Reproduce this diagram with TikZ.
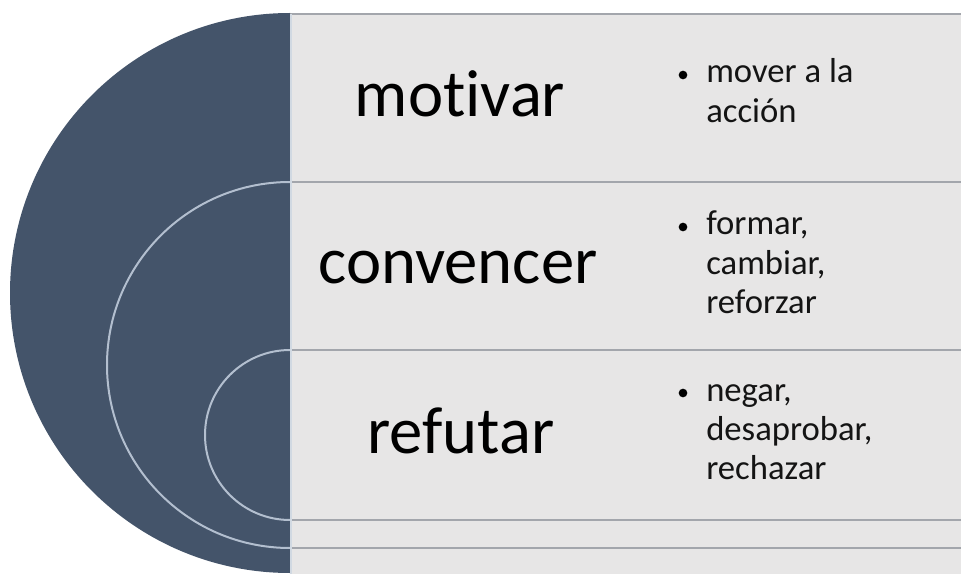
\documentclass[tikz,border=0pt]{standalone}
\usepackage{fontspec}
\setmainfont{Carlito}[Ligatures=NoCommon]
\definecolor{disc}{HTML}{44546A}
\definecolor{panel}{HTML}{E7E6E6}
\definecolor{sep}{HTML}{A3A6AC}
\definecolor{ring}{HTML}{B3BFCF}
\tikzset{
  bigtext/.style={anchor=base, inner sep=0pt, font=\fontsize{50}{60}\selectfont, text=black},
  smalltext/.style={anchor=base west, inner sep=0pt, font=\fontsize{26}{29.5}\selectfont, text=black!92},
  bulletdot/.style={circle, fill=black, inner sep=0pt, minimum size=6.5pt},
  band/.style={fill=panel},
  sepline/.style={draw=sep, line width=1.6pt},
  ringline/.style={draw=ring, line width=1.5pt},
}
\begin{document}
\begin{tikzpicture}[x=0.75pt, y=-0.75pt]
\useasboundingbox (0,0) rectangle (961,574);
\fill[white] (0,0) rectangle (961,574);
% right panel bands
\fill[band] (290,14) rectangle (961,574);
\draw[sepline] (290,14) -- (961,14);
\draw[sepline] (290,182) -- (961,182);
\draw[sepline] (290,350) -- (961,350);
\draw[sepline] (290,520) -- (961,520);
\draw[sepline] (290,548) -- (961,548);
% half disc with rings
\begin{scope}
  \clip (0,0) rectangle (290,574);
  \fill[disc] (290,293) circle[radius=280];
  \draw[ringline] (290,365) circle[radius=183];
  \draw[ringline] (290,435) circle[radius=85];
\end{scope}
\draw[draw=ring!60!white, line width=0.8pt] (291,14) -- (291,574);
% big labels
\node[bigtext] (motivar) at (460,117) {motivar};
\node[bigtext] (convencer) at (458,283) {convencer};
\node[bigtext] (refutar) at (461,453) {refutar};
% bullets
\node[bulletdot] (b1) at (683,75) {};
\node[bulletdot] (b2) at (683,227) {};
\node[bulletdot] (b3) at (683,393) {};
\node[smalltext] (t1) at (706,83) {\parbox[t]{8cm}{\raggedright mover a la\\acción}};
\node[smalltext] (t2) at (706,235) {\parbox[t]{8cm}{\raggedright formar,\\cambiar,\\reforzar}};
\node[smalltext] (t3) at (706,401) {\parbox[t]{8cm}{\raggedright negar,\\desaprobar,\\rechazar}};
\end{tikzpicture}
\end{document}
